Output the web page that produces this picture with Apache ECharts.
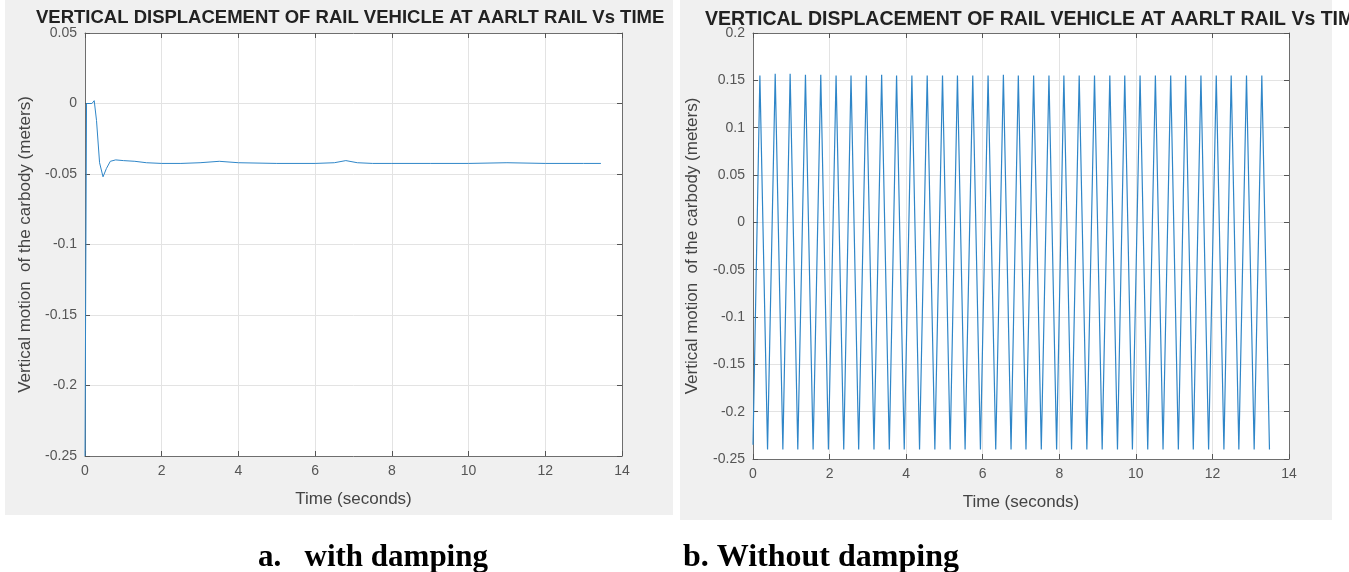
<!DOCTYPE html>
<html>
<head>
<meta charset="utf-8">
<script src="https://cdn.jsdelivr.net/npm/echarts@6/dist/echarts.min.js"></script>
<style>
  html, body { margin: 0; padding: 0; background: #ffffff; }
  #chart { width: 1349px; height: 572px; }
</style>
</head>
<body>
<div id="chart"></div>
<script>
// damped response (left panel)
const dampedTime = [0, 0.02, 0.04, 0.1, 0.18, 0.24, 0.3, 0.38, 0.47, 0.56, 0.66, 0.8, 1.0, 1.3, 1.6, 2.0, 2.5, 3.0, 3.5, 4.0, 5.0, 6.0, 6.5, 6.8, 7.1, 7.5, 8.0, 9.0, 10.0, 11.0, 12.0, 13.0, 13.45]
const dampedValue = [-0.25, -0.12, 0.0, 0.0, 0.0, 0.002, -0.012, -0.042, -0.052, -0.046, -0.041, -0.04, -0.0405, -0.041, -0.042, -0.0425, -0.0425, -0.042, -0.041, -0.042, -0.0425, -0.0425, -0.042, -0.0405, -0.042, -0.0425, -0.0425, -0.0425, -0.0425, -0.042, -0.0425, -0.0425, -0.0425]

// undamped response (right panel), peaks and troughs
const undampedTime = [0, 0.18, 0.38, 0.58, 0.78, 0.97, 1.17, 1.37, 1.57, 1.77, 1.97, 2.17, 2.37, 2.56, 2.76, 2.96, 3.16, 3.36, 3.56, 3.75, 3.95, 4.15, 4.35, 4.55, 4.75, 4.95, 5.15, 5.34, 5.54, 5.74, 5.94, 6.14, 6.34, 6.54, 6.74, 6.93, 7.13, 7.33, 7.53, 7.73, 7.93, 8.12, 8.32, 8.52, 8.72, 8.92, 9.12, 9.32, 9.52, 9.71, 9.91, 10.11, 10.31, 10.51, 10.71, 10.91, 11.11, 11.30, 11.50, 11.70, 11.90, 12.10, 12.30, 12.49, 12.69, 12.89, 13.09, 13.29, 13.49]
const undampedValue = [-0.235, 0.155, -0.24, 0.157, -0.24, 0.157, -0.24, 0.156, -0.24, 0.156, -0.24, 0.155, -0.24, 0.155, -0.24, 0.155, -0.24, 0.156, -0.24, 0.155, -0.24, 0.155, -0.24, 0.155, -0.24, 0.155, -0.24, 0.155, -0.24, 0.155, -0.24, 0.155, -0.24, 0.156, -0.24, 0.155, -0.24, 0.155, -0.24, 0.155, -0.24, 0.155, -0.24, 0.155, -0.24, 0.155, -0.24, 0.155, -0.24, 0.155, -0.24, 0.155, -0.24, 0.155, -0.24, 0.155, -0.24, 0.155, -0.24, 0.155, -0.24, 0.155, -0.24, 0.155, -0.24, 0.155, -0.24, 0.155, -0.24]

const xTicks = [0, 14, 2]            // min, max, interval
const leftYTicks = [-0.25, 0.05, 0.05]
const rightYTicks = [-0.25, 0.2, 0.05]

const titleText = 'VERTICAL DISPLACEMENT OF RAIL VEHICLE AT AARLT RAIL Vs TIME'
const xName = 'Time (seconds)'
const yName = 'Vertical motion  of the carbody (meters)'
const captions = ['a.   with damping', 'b. Without damping']

const lineColor = '#2f86c8'
const labelColor = '#555555'
const font = 'Liberation Sans, Arial, sans-serif'
const serif = 'Liberation Serif, Times New Roman, serif'

const chart = echarts.init(document.getElementById('chart'))

const grids = [
  { left: 85, top: 33, width: 537, height: 423 },
  { left: 753, top: 33, width: 536, height: 426 }
]

const baseX = (gridIndex, withLabels) => ({
  type: 'value',
  gridIndex,
  min: xTicks[0],
  max: xTicks[1],
  interval: xTicks[2],
  position: withLabels ? 'bottom' : 'top',
  name: withLabels ? xName : '',
  nameLocation: 'middle',
  nameGap: 35,
  nameTextStyle: { fontFamily: font, fontSize: 17, color: '#444' },
  axisLine: { show: true, onZero: false, lineStyle: { color: '#6e6e6e', width: 1 } },
  axisTick: { show: true, inside: true, length: 5, lineStyle: { color: '#555' } },
  axisLabel: { show: withLabels, fontFamily: font, fontSize: 14, color: labelColor, margin: 8 },
  splitLine: { show: withLabels, lineStyle: { color: '#e3e3e3', width: 1 } }
})

const baseY = (gridIndex, ticks, withLabels, gap) => ({
  type: 'value',
  gridIndex,
  min: ticks[0],
  max: ticks[1],
  interval: ticks[2],
  position: withLabels ? 'left' : 'right',
  name: withLabels ? yName : '',
  nameLocation: 'middle',
  nameGap: gap,
  nameTextStyle: { fontFamily: font, fontSize: 17, color: '#444' },
  axisLine: { show: true, onZero: false, lineStyle: { color: '#6e6e6e', width: 1 } },
  axisTick: { show: true, inside: true, length: 5, lineStyle: { color: '#555' } },
  axisLabel: { show: withLabels, fontFamily: font, fontSize: 14, color: labelColor, margin: 8 },
  splitLine: { show: withLabels, lineStyle: { color: '#e3e3e3', width: 1 } }
})

const option = {
  animation: false,
  backgroundColor: '#ffffff',
  graphic: [
    { type: 'rect', z: -10, shape: { x: 5, y: 0, width: 668, height: 515 }, style: { fill: '#f0f0f0' } },
    { type: 'rect', z: -10, shape: { x: 680, y: 0, width: 652, height: 520 }, style: { fill: '#f0f0f0' } }
  ],
  title: [
    { text: titleText, left: 31, top: 3, textStyle: { fontFamily: font, fontSize: 18.5, fontWeight: 'bold', color: '#222' } },
    { text: titleText, left: 700, top: 5, textStyle: { fontFamily: font, fontSize: 19.5, fontWeight: 'bold', color: '#222' } },
    { text: captions[0], left: 253, top: 537, textStyle: { fontFamily: serif, fontSize: 31, fontWeight: 'bold', color: '#000' } },
    { text: captions[1], left: 678, top: 537, textStyle: { fontFamily: serif, fontSize: 32, fontWeight: 'bold', color: '#000' } }
  ],
  grid: grids.map(g => ({ ...g, show: true, backgroundColor: '#ffffff', borderWidth: 0 })),
  xAxis: [baseX(0, true), baseX(0, false), baseX(1, true), baseX(1, false)],
  yAxis: [baseY(0, leftYTicks, true, 51), baseY(0, leftYTicks, false, 0), baseY(1, rightYTicks, true, 52), baseY(1, rightYTicks, false, 0)],
  series: [
    {
      type: 'line',
      xAxisIndex: 0,
      yAxisIndex: 0,
      showSymbol: false,
      lineStyle: { color: lineColor, width: 1 },
      data: dampedTime.map((t, i) => [t, dampedValue[i]])
    },
    {
      type: 'line',
      xAxisIndex: 2,
      yAxisIndex: 2,
      showSymbol: false,
      lineStyle: { color: lineColor, width: 1.2 },
      data: undampedTime.map((t, i) => [t, undampedValue[i]])
    }
  ]
}

chart.setOption(option)
</script>
</body>
</html>
